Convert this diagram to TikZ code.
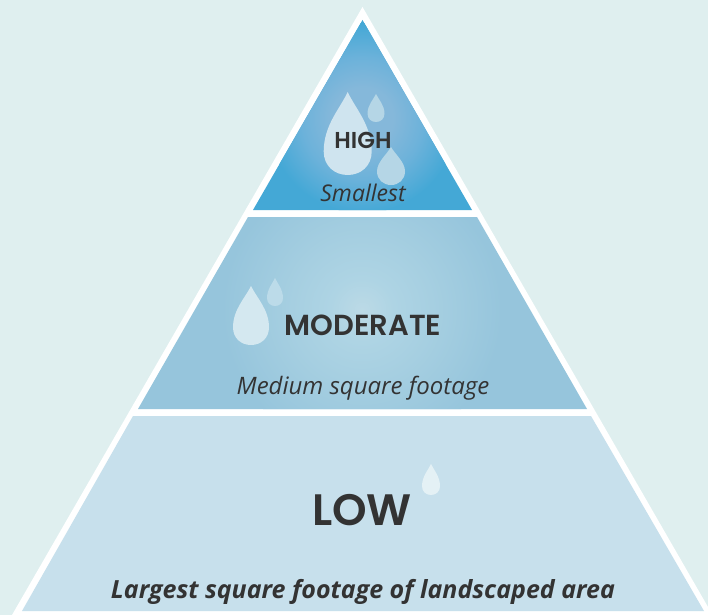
\documentclass[tikz,border=0pt]{standalone}
\usepackage{fontspec}
\setmainfont{Open Sans}
\newfontfamily\headfont{Poppins}[BoldFont={Poppins SemiBold}]
\definecolor{bgc}{HTML}{DFEFEF}
\definecolor{lowc}{HTML}{C7E0EC}
\definecolor{inkc}{HTML}{333333}
\definecolor{topin}{RGB}{133,184,218}
\definecolor{topmid}{RGB}{108,178,218}
\definecolor{topout}{RGB}{68,168,214}
\definecolor{midin}{RGB}{188,218,230}
\definecolor{midb}{RGB}{174,212,228}
\definecolor{midmid}{RGB}{166,207,225}
\definecolor{midout}{RGB}{150,197,220}
\definecolor{dropa}{RGB}{207,228,239}
\definecolor{dropb}{RGB}{181,214,230}
\definecolor{dropc}{RGB}{212,232,240}
\definecolor{dropd}{RGB}{188,219,233}
\definecolor{drope}{RGB}{228,241,245}
\pgfdeclareradialshading{topshade}{\pgfpoint{0bp}{0bp}}{color(0bp)=(topin);color(8bp)=(topin);color(16bp)=(topmid);color(25bp)=(topout);color(50bp)=(topout)}
\pgfdeclareradialshading{midshade}{\pgfpoint{0bp}{0bp}}{color(0bp)=(midin);color(5.7bp)=(midb);color(12.5bp)=(midmid);color(25bp)=(midout);color(50bp)=(midout)}
\tikzset{
 headlabel/.style={text=inkc,inner sep=0pt,anchor=center},
 sublabel/.style={text=inkc,inner sep=0pt,anchor=center},
}
\newcommand{\waterdrop}[5]{% cx, top, bottom, halfwidth, colour
 \pgfmathsetmacro{\dh}{#3-#2}
 \fill[#5] (#1,#2) .. controls ({#1+0.32*#4},{#2+0.20*\dh}) and ({#1+#4},{#2+0.40*\dh}) .. ({#1+#4},{#3-0.98*#4})
  .. controls ({#1+#4},{#3-0.38*#4}) and ({#1+0.55*#4},#3) .. (#1,#3)
  .. controls ({#1-0.55*#4},#3) and ({#1-#4},{#3-0.38*#4}) .. ({#1-#4},{#3-0.98*#4})
  .. controls ({#1-#4},{#2+0.40*\dh}) and ({#1-0.32*#4},{#2+0.20*\dh}) .. cycle;
}
\begin{document}
\begin{tikzpicture}[x=1pt,y=-1pt]
\useasboundingbox (0,0) rectangle (708,615);
\fill[bgc] (0,0) rectangle (708,615);
% white pyramid
\fill[white] (362.5,7) -- (708,607) -- (708,615) -- (12,615) -- cycle;
% top
\begin{scope}
 \clip (362.5,20) -- (472,210) -- (253,210) -- cycle;
 \fill[topout] (240,10) rectangle (490,215);
 \shade[shading=topshade] (362.5,118) circle (95);
\end{scope}
% middle
\begin{scope}
 \clip (248,217) -- (477,217) -- (587,409) -- (138,409) -- cycle;
 \fill[midout] (130,210) rectangle (600,415);
 \shade[shading=midshade] (362,310) circle (140);
\end{scope}
% bottom
\fill[lowc] (133,416) -- (591,416) -- (704,611) -- (22,611) -- cycle;
% drops
\waterdrop{347.7}{92}{175}{24}{dropa}
\waterdrop{376}{94}{122}{8.5}{dropb}
\waterdrop{391}{147}{185}{14}{dropb}
\waterdrop{251}{286}{345}{18}{dropc}
\waterdrop{275}{278}{306}{8}{dropd}
\waterdrop{431}{464}{495}{9}{drope}
% text
\node[headlabel,font=\headfont\bfseries\fontsize{23}{26}\selectfont] (high) at (363,140) {HIGH};
\node[sublabel,font=\itshape\fontsize{23}{26}\selectfont] (small) at (363,193) {Smallest};
\node[headlabel,font=\headfont\bfseries\fontsize{29}{32}\selectfont] (mod) at (363,325) {MODERATE};
\node[sublabel,font=\itshape\fontsize{24}{27}\selectfont] (med) at (363,388.5) {Medium square footage};
\node[headlabel,font=\headfont\bfseries\fontsize{44}{48}\selectfont] (low) at (362,510) {LOW};
\node[sublabel,font=\bfseries\itshape\fontsize{25}{28}\selectfont] (large) at (363,592) {Largest square footage of landscaped area};
\end{tikzpicture}
\end{document}
